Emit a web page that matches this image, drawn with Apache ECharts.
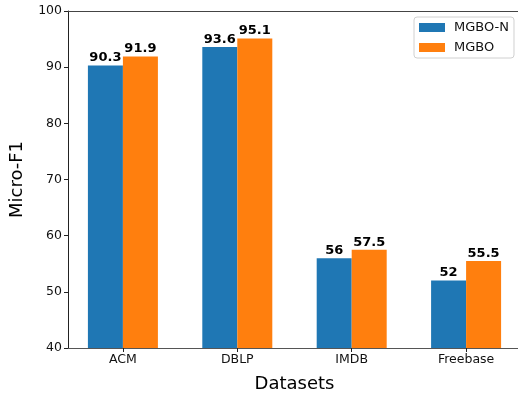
<!DOCTYPE html>
<html><head><meta charset="utf-8">
<script src="https://cdn.jsdelivr.net/npm/echarts@6/dist/echarts.min.js"></script>
<style>html,body{margin:0;padding:0;background:#fff;overflow:hidden}#c{width:518px;height:394px}</style>
</head><body><div id="c"></div>
<script>
const categories = ['ACM', 'DBLP', 'IMDB', 'Freebase'];
const mgboN = [90.3, 93.6, 56, 52];
const mgbo = [91.9, 95.1, 57.5, 55.5];
const yTicks = [40, 50, 60, 70, 80, 90, 100];
const seriesNames = ['MGBO-N', 'MGBO'];

const font = 'DejaVu Sans';
const chart = echarts.init(document.getElementById('c'), null, {renderer: 'canvas'});
const idx = categories.map((c, i) => i);
const lbl = {show: true, position: 'top', distance: 1, color: '#000', fontFamily: font, fontWeight: 'bold', fontSize: 13};
chart.setOption({
  animation: false,
  grid: {left: 68, top: 11, width: 453, height: 337, containLabel: false, outerBoundsMode: 'none', show: false},
  legend: {
    orient: 'vertical', left: 414, top: 17,
    data: seriesNames,
    itemWidth: 26, itemHeight: 9, itemGap: 7,
    icon: 'rect',
    borderColor: '#d0d0d0', borderWidth: 1, borderRadius: 3,
    padding: [4, 5, 4, 5],
    textStyle: {fontFamily: font, fontSize: 13, color: '#111', padding: [0, 0, 0, 4]}
  },
  xAxis: [{
    type: 'value', min: -0.48, max: 3.48,
    name: 'Datasets', nameLocation: 'middle', nameGap: 27,
    nameTextStyle: {fontFamily: font, fontSize: 18, color: '#000'},
    axisLine: {show: true, onZero: false, lineStyle: {color: '#555', width: 1}},
    axisTick: {show: true, customValues: idx, length: 4, lineStyle: {color: '#222'}},
    axisLabel: {customValues: idx, formatter: v => categories[Math.round(v)], fontFamily: font, fontSize: 12.5, color: '#111', margin: 5},
    splitLine: {show: false}
  }, {
    type: 'value', position: 'top', min: -0.48, max: 3.48,
    axisLine: {show: true, onZero: false, lineStyle: {color: '#444', width: 1}},
    axisTick: {show: false}, axisLabel: {show: false}, splitLine: {show: false}
  }],
  yAxis: {
    type: 'value', min: yTicks[0], max: yTicks[yTicks.length - 1], interval: 10,
    name: 'Micro-F1', nameLocation: 'middle', nameGap: 42,
    nameTextStyle: {fontFamily: font, fontSize: 18, color: '#000'},
    axisLine: {show: true, onZero: false, lineStyle: {color: '#222', width: 1}},
    axisTick: {show: true, length: 4, lineStyle: {color: '#222'}},
    axisLabel: {fontFamily: font, fontSize: 12.5, color: '#111', margin: 6},
    splitLine: {show: false}
  },
  series: [
    {name: seriesNames[0], type: 'bar', data: idx.map(i => [i, mgboN[i]]), barWidth: 35, barGap: '0%', itemStyle: {color: '#1f77b4'}, label: lbl},
    {name: seriesNames[1], type: 'bar', data: idx.map(i => [i, mgbo[i]]), barWidth: 35, barGap: '0%', itemStyle: {color: '#ff7f0e'}, label: lbl}
  ]
});
</script></body></html>
